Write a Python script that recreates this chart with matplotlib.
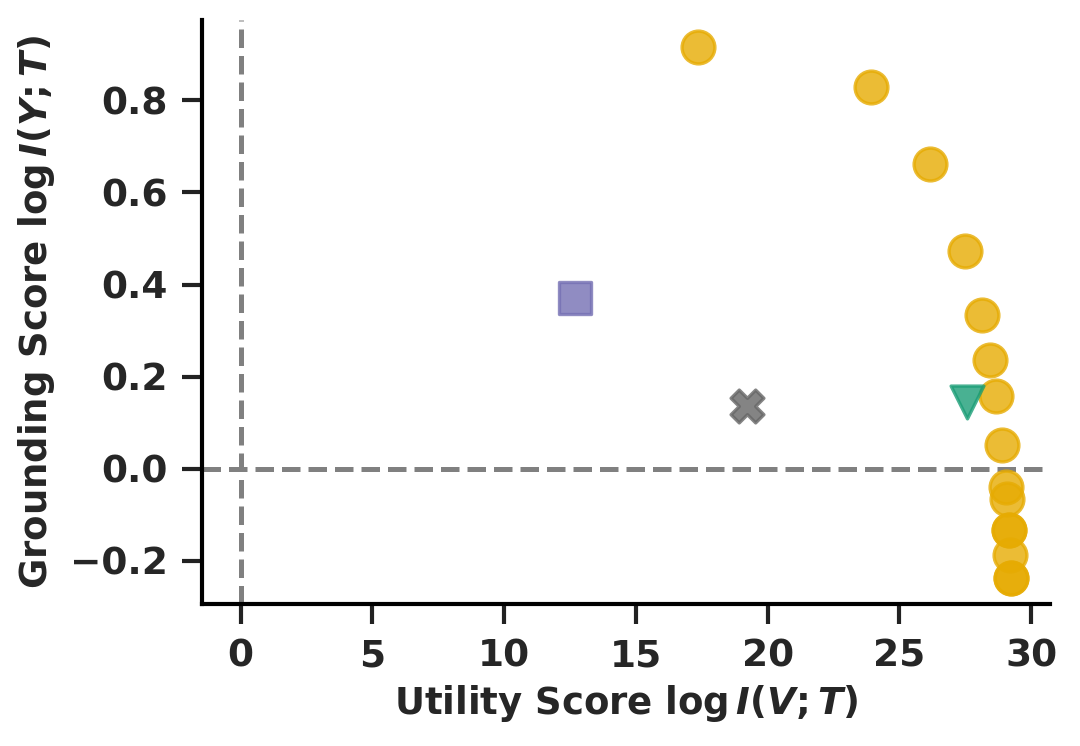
import matplotlib
matplotlib.use("Agg")
import matplotlib.pyplot as plt
import seaborn as sns

# utility score log I(V;T) and grounding score log I(Y;T)
sweep_x = [17.35, 23.94, 26.17, 27.49, 28.13, 28.46, 28.66, 28.90, 29.06, 29.10, 29.17, 29.17, 29.20, 29.24, 29.24]
sweep_y = [0.917, 0.830, 0.662, 0.473, 0.334, 0.235, 0.158, 0.052, -0.039, -0.066, -0.134, -0.134, -0.187, -0.237, -0.237]
square_x, square_y = [12.68], [0.370]
cross_x, cross_y = [19.23], [0.136]
tri_x, tri_y = [27.55], [0.144]

sns.set_theme(style="ticks", context="paper")
plt.rcParams["font.family"] = ["DejaVu Sans"]
plt.rcParams["font.weight"] = "bold"
plt.rcParams["axes.labelweight"] = "bold"
plt.rcParams["axes.edgecolor"] = "black"
plt.rcParams["xtick.color"] = "#222222"
plt.rcParams["ytick.color"] = "#222222"
plt.rcParams["mathtext.fontset"] = "custom"
plt.rcParams["mathtext.rm"] = "DejaVu Sans:bold"
plt.rcParams["mathtext.it"] = "DejaVu Sans:italic:bold"
plt.rcParams["mathtext.bf"] = "DejaVu Sans:bold"

fig, ax = plt.subplots(figsize=(3.603, 2.487), dpi=300)
fig.subplots_adjust(left=0.187, right=0.971, top=0.973, bottom=0.19)

yellow = "#e6ab02"
ax.scatter(sweep_x, sweep_y, s=62, c=yellow, edgecolors=yellow, alpha=0.8, zorder=3)
ax.scatter(square_x, square_y, s=62, marker="s", c="#7570b3", edgecolors="#7570b3", alpha=0.8, zorder=3)
ax.scatter(cross_x, cross_y, s=62, marker="X", c="#666666", edgecolors="#666666", alpha=0.8, zorder=3)
ax.scatter(tri_x, tri_y, s=62, marker="v", c="#1b9e77", edgecolors="#1b9e77", alpha=0.8, zorder=3)

ax.axhline(0, color="gray", linestyle="--", linewidth=1.2)
ax.axvline(0, color="gray", linestyle="--", linewidth=1.2)

ax.set_xticks([0, 5, 10, 15, 20, 25, 30])
ax.set_yticks([-0.2, 0.0, 0.2, 0.4, 0.6, 0.8])
ax.tick_params(labelsize=9, labelcolor="#262626")
ax.set_xlabel(r"Utility Score $\log I(V;T)$", fontsize=8.9, labelpad=2, color="#262626")
ax.set_ylabel(r"Grounding Score $\log I(Y;T)$", fontsize=8.9, labelpad=3, color="#262626")
sns.despine(ax=ax)

fig.savefig("out.png", dpi=300)
